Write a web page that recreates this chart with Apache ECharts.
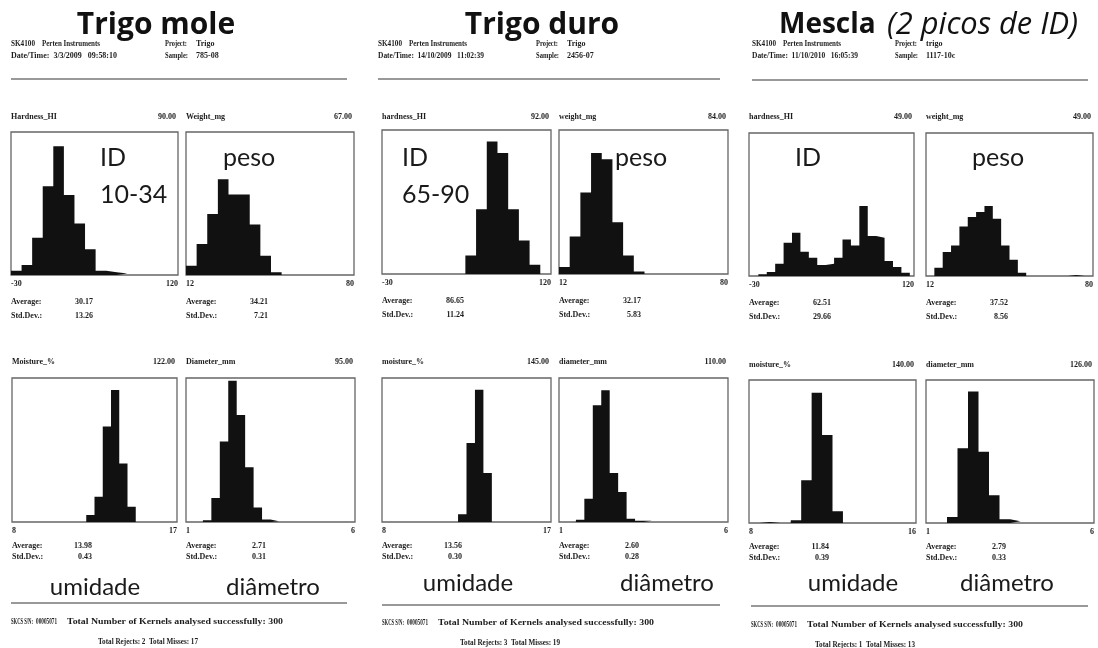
<!DOCTYPE html>
<html><head><meta charset="utf-8">
<script src="https://cdn.jsdelivr.net/npm/echarts@6/dist/echarts.min.js"></script>
<style>html,body{margin:0;padding:0;background:#fff}#c{width:1098px;height:648px}</style>
</head><body><div id="c"></div>
<script>
// ---------------- DATA ----------------
const panelTitles = ['Trigo mole', 'Trigo duro', 'Mescla'];
const panelSubtitle = '(2 picos de ID)';
const instrument = ['SK4100', 'Perten Instruments'];
const projects = ['Trigo', 'Trigo', 'trigo'];
const dateTimes = ['Date/Time:  3/3/2009   09:58:10', 'Date/Time:  14/10/2009   11:02:39', 'Date/Time:  11/10/2010   16:05:39'];
const samples = ['785-08', '2456-07', '1117-10c'];
const varNames = [
  ['Hardness_HI', 'Weight_mg', 'Moisture_%', 'Diameter_mm'],
  ['hardness_HI', 'weight_mg', 'moisture_%', 'diameter_mm'],
  ['hardness_HI', 'weight_mg', 'moisture_%', 'diameter_mm']
];
const peakLabels = [
  ['90.00', '67.00', '122.00', '95.00'],
  ['92.00', '84.00', '145.00', '110.00'],
  ['49.00', '49.00', '140.00', '126.00']
];
const averages = [['30.17', '34.21', '13.98', '2.71'], ['86.65', '32.17', '13.56', '2.60'], ['62.51', '37.52', '11.84', '2.79']];
const stdDevs = [['13.26', '7.21', '0.43', '0.31'], ['11.24', '5.83', '0.30', '0.28'], ['29.66', '8.56', '0.39', '0.33']];
const rejects = ['Total Rejects: 2  Total Misses: 17', 'Total Rejects: 3  Total Misses: 19', 'Total Rejects: 1  Total Misses: 13'];
const serialNo = '00005071';
const kernelsText = 'Total Number of Kernels analysed successfully: 300';

// x-axis ranges (min, max tick labels) per variable
const xMins = [[-30, 12, 8, 1], [-30, 12, 8, 1], [-30, 12, 8, 1]];
const xMaxs = [[120, 80, 17, 6], [120, 80, 17, 6], [120, 80, 16, 6]];
// y-axis scale tops (counts)
const yMaxs = [[100, 100, 133, 96.9], [100, 100, 157.8, 120.3], [100, 100, 153.6, 137]];

// histogram bin start / width / counts
const moleHardness = { start: -30, width: 9.5, counts: [3, 7, 26, 62, 90, 56, 36, 18, 3, 2, 1] };
const moleWeight = { start: 12, width: 4.3, counts: [6.5, 21.6, 42.6, 67, 56.3, 56.3, 35.3, 13.5, 1.9] };
const moleMoisture = { start: 12.05, width: 0.45, counts: [6.4, 23.3, 88.3, 122, 54, 14] };
const moleDiameter = { start: 1.5, width: 0.25, counts: [1.2, 16.1, 54.2, 95, 72, 36.9, 9.7, 1.6, 0.5] };

const duroHardness = { start: 44, width: 9.5, counts: [12.9, 45, 92, 84, 45, 23.3, 6.5] };
const duroWeight = { start: 12, width: 4.3, counts: [4.8, 26, 56.6, 84, 79.7, 36, 12.9, 1.8, 0, 0, 1.2] };
const duroMoisture = { start: 12.05, width: 0.45, counts: [8.4, 86.6, 145, 53.7] };
const duroDiameter = { start: 1.5, width: 0.25, counts: [1.9, 19.5, 97.5, 110, 41, 25, 2.8, 1.1, 1.1] };

const mesclaHardness = { start: -21.5, width: 7.65, counts: [1.2, 2.8, 8.6, 23.3, 30.3, 17, 12.8, 7.7, 8.6, 12.8, 25.6, 21.4, 49, 28, 26.8, 10.5, 6.3, 2.3] };
const mesclaWeight = { start: 12, width: 3.4, counts: [0, 5.8, 16.8, 21.4, 34.7, 41.3, 44.8, 49, 40, 21.4, 11.4, 2.3, 0, 0, 0, 0, 0, 0.7, 0.7] };
const mesclaMoisture = { start: 8, width: 0.5, counts: [0, 1, 0, 0, 2.9, 46, 140, 94.4, 12.6] };
const mesclaDiameter = { start: 1.625, width: 0.3125, counts: [5.8, 71.5, 126, 68.3, 26.6, 3.5, 1.6] };

const histograms = [
  [moleHardness, moleWeight, moleMoisture, moleDiameter],
  [duroHardness, duroWeight, duroMoisture, duroDiameter],
  [mesclaHardness, mesclaWeight, mesclaMoisture, mesclaDiameter]
];
const annotations = [['ID', '10-34'], ['ID', '65-90'], ['ID']];
const annoPeso = 'peso', annoUmidade = 'umidade', annoDiametro = 'diâmetro';

// ---------------- LAYOUT ----------------
const boxes = [
  [[11, 132, 167, 143], [186, 132, 168, 143], [12, 378, 165, 144], [186, 378, 169, 144]],
  [[382, 130, 169, 144], [559, 130, 169, 144], [382, 378, 169, 144], [559, 378, 169, 144]],
  [[749, 133, 165, 143], [926, 133, 167, 143], [749, 380, 167, 143], [926, 380, 168, 143]]
];
const headerY = [[117, 362], [117, 362], [117, 365]];
const panelX = [11, 378, 752];
const projX = [165, 536, 895];
const titleCX = [156, 542];
const headLineY = [79, 79, 80];
const headLineX2 = [347, 720, 1088];
const footLineY = [603, 605, 606];
const footX = [11, 382, 751];
const footY = [622, 623, 625];
const rejX = [98, 460, 815];
const rejY = [642, 643, 645];
const idX = [100, 402, 795];
const pesoX = [223, 615, 972];
const umidCX = [95, 468, 853];
const diamCX = [273, 667, 1007];
const bigWordY = [587, 583, 583];

const SERIF = 'bold 8px "Liberation Serif", "DejaVu Serif", serif';
const SANS = '"Lato", "Open Sans", sans-serif';
const TITLE = '"Open Sans", "Noto Sans", sans-serif';
const INK = '#1a1a1a';

const measureCtx = document.createElement('canvas').getContext('2d');
const grids = [], xAxes = [], yAxes = [], series = [], graphics = [];
function txt(x, y, text, font, align, fill, fitWidth) {
  let sx = 1;
  if (fitWidth) { measureCtx.font = font; sx = fitWidth / measureCtx.measureText(text).width; }
  graphics.push({ type: 'text', x: x, y: y, scaleX: sx, silent: true,
    style: { text: text, font: font, textAlign: align || 'left', textVerticalAlign: 'middle', fill: fill || '#1c1c1c' } });
}
function line(x1, y1, x2, y2, w) {
  graphics.push({ type: 'line', silent: true, shape: { x1: x1, y1: y1, x2: x2, y2: y2 }, style: { stroke: '#777', lineWidth: w || 1.5 } });
}

let gi = 0;
for (let p = 0; p < 3; p++) {
  for (let h = 0; h < 4; h++) {
    const b = boxes[p][h];
    grids.push({ left: b[0], top: b[1], width: b[2], height: b[3], show: true, borderColor: '#666', borderWidth: 1.3, backgroundColor: '#fff' });
    const mn = xMins[p][h], mx = xMaxs[p][h];
    xAxes.push({ type: 'value', gridIndex: gi, min: mn, max: mx, interval: mx - mn,
      axisLine: { show: false }, axisTick: { show: false }, splitLine: { show: false },
      axisLabel: { fontSize: 8, fontWeight: 'bold', fontFamily: '"Liberation Serif", serif', color: '#1c1c1c', margin: 5,
        alignMinLabel: 'left', alignMaxLabel: 'right' } });
    yAxes.push({ type: 'value', gridIndex: gi, min: 0, max: yMaxs[p][h], show: false, splitLine: { show: false } });
    const hd = histograms[p][h];
    const pts = hd.counts.map((c, i) => [hd.start + i * hd.width, c]);
    pts.push([hd.start + hd.counts.length * hd.width, hd.counts[hd.counts.length - 1]]);
    series.push({ type: 'line', xAxisIndex: gi, yAxisIndex: gi, step: 'end', symbol: 'none', silent: true,
      data: pts, lineStyle: { width: 0, opacity: 0 }, areaStyle: { color: '#111', opacity: 1 } });
    const top = h < 2;
    const hy = headerY[p][top ? 0 : 1];
    txt(b[0], hy, varNames[p][h], SERIF, 'left');
    txt(b[0] + b[2] - 2, hy, peakLabels[p][h], SERIF, 'right');
    const ay = b[1] + b[3] + (top ? 27 : 24);
    const sy = b[1] + b[3] + (top ? 41 : 35);
    const vx = b[0] + (top ? 82 : 80);
    txt(b[0], ay, 'Average:', SERIF);
    txt(b[0], sy, 'Std.Dev.:', SERIF);
    txt(vx, ay, averages[p][h], SERIF, 'right');
    txt(vx, sy, stdDevs[p][h], SERIF, 'right');
    gi++;
  }
  const px = panelX[p];
  txt(px, 44, instrument[0], SERIF, 'left', null, 24);
  txt(px + 31, 44, instrument[1], SERIF, 'left', null, 58);
  txt(px, 56, dateTimes[p], SERIF, 'left', null, 106);
  txt(projX[p], 44, 'Project:', SERIF, 'left', null, 22);
  txt(projX[p] + 31, 44, projects[p], SERIF);
  txt(projX[p], 56, 'Sample:', SERIF, 'left', null, 23);
  txt(projX[p] + 31, 56, samples[p], SERIF);
  line(px, headLineY[p], headLineX2[p], headLineY[p]);
  line(footX[p], footLineY[p], headLineX2[p], footLineY[p]);
  txt(footX[p], footY[p], 'SKCS S/N:', SERIF, 'left', null, 22);
  txt(footX[p] + 25, footY[p], serialNo, SERIF, 'left', null, 21);
  txt(footX[p] + 56, footY[p], kernelsText, SERIF, 'left', null, 216);
  txt(rejX[p], rejY[p], rejects[p], SERIF, 'left', null, 100);
  const an = annotations[p];
  txt(idX[p], 158, an[0], '25px ' + SANS, 'left', INK);
  if (an[1]) txt(idX[p], 195, an[1], '25px ' + SANS, 'left', INK);
  txt(pesoX[p], 158, annoPeso, '25px ' + SANS, 'left', INK);
  txt(umidCX[p], bigWordY[p], annoUmidade, '24px ' + SANS, 'center', INK);
  txt(diamCX[p], bigWordY[p], annoDiametro, '24px ' + SANS, 'center', INK);
}
txt(titleCX[0], 25, panelTitles[0], 'bold 30px ' + TITLE, 'center', '#111');
txt(titleCX[1], 25, panelTitles[1], 'bold 30px ' + TITLE, 'center', '#111');
txt(779, 25, panelTitles[2], 'bold 28px ' + TITLE, 'left', '#111');
txt(887, 25, panelSubtitle, 'italic 31px ' + TITLE, 'left', '#111', 191);

const chart = echarts.init(document.getElementById('c'), null, { renderer: 'canvas' });
chart.setOption({ animation: false, backgroundColor: '#fff', grid: grids, xAxis: xAxes, yAxis: yAxes, series: series, graphic: graphics });
</script></body></html>
